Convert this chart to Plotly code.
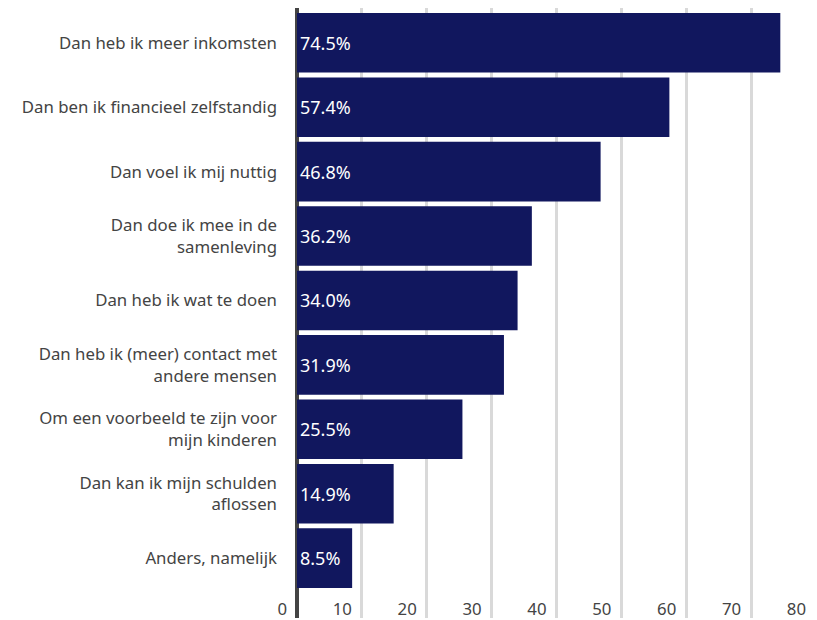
import plotly.graph_objects as go

categorieen = [
    "Dan heb ik meer inkomsten",
    "Dan ben ik financieel zelfstandig",
    "Dan voel ik mij nuttig",
    "Dan doe ik mee in de<br>samenleving",
    "Dan heb ik wat te doen",
    "Dan heb ik (meer) contact met<br>andere mensen",
    "Om een voorbeeld te zijn voor<br>mijn kinderen",
    "Dan kan ik mijn schulden<br>aflossen",
    "Anders, namelijk",
]
percentages = [74.5, 57.4, 46.8, 36.2, 34.0, 31.9, 25.5, 14.9, 8.5]
x_ticks = [0, 10, 20, 30, 40, 50, 60, 70, 80]

fig = go.Figure()

fig.add_trace(go.Bar(
    y=categorieen,
    x=percentages,
    orientation="h",
    marker=dict(color="#11175e", line=dict(width=0)),
    text=[f"{p:.1f}%" for p in percentages],
    textposition="inside",
    insidetextanchor="start",
    textfont=dict(color="white", size=18, family="Noto Sans"),
    hoverinfo="skip",
))

# the page body has an 8px margin, so the figure is made 8px smaller
fig.update_layout(
    width=809,
    height=612,
    margin=dict(l=289, r=1, t=0, b=0),
    paper_bgcolor="white",
    plot_bgcolor="white",
    showlegend=False,
    bargap=0.075,
    font=dict(family="Noto Sans", size=16.8, color="#444444"),
    xaxis=dict(
        range=[0, 80],
        tickvals=x_ticks,
        showgrid=True,
        gridcolor="#d9d9d9",
        gridwidth=3,
        zeroline=True,
        zerolinecolor="#444444",
        zerolinewidth=4,
        showline=False,
        ticks="",
        ticklabelposition="outside left",
        ticklabelstandoff=-21,
        ticklabelshift=-10,
        tickfont=dict(size=16.8, color="#444444"),
    ),
    yaxis=dict(
        categoryorder="array",
        categoryarray=categorieen,
        range=[8.93, -0.54],
        showgrid=False,
        zeroline=False,
        showline=False,
        ticks="",
        ticklabelstandoff=19,
        tickfont=dict(size=16.8, color="#444444"),
    ),
)

fig.write_html("out.html")
